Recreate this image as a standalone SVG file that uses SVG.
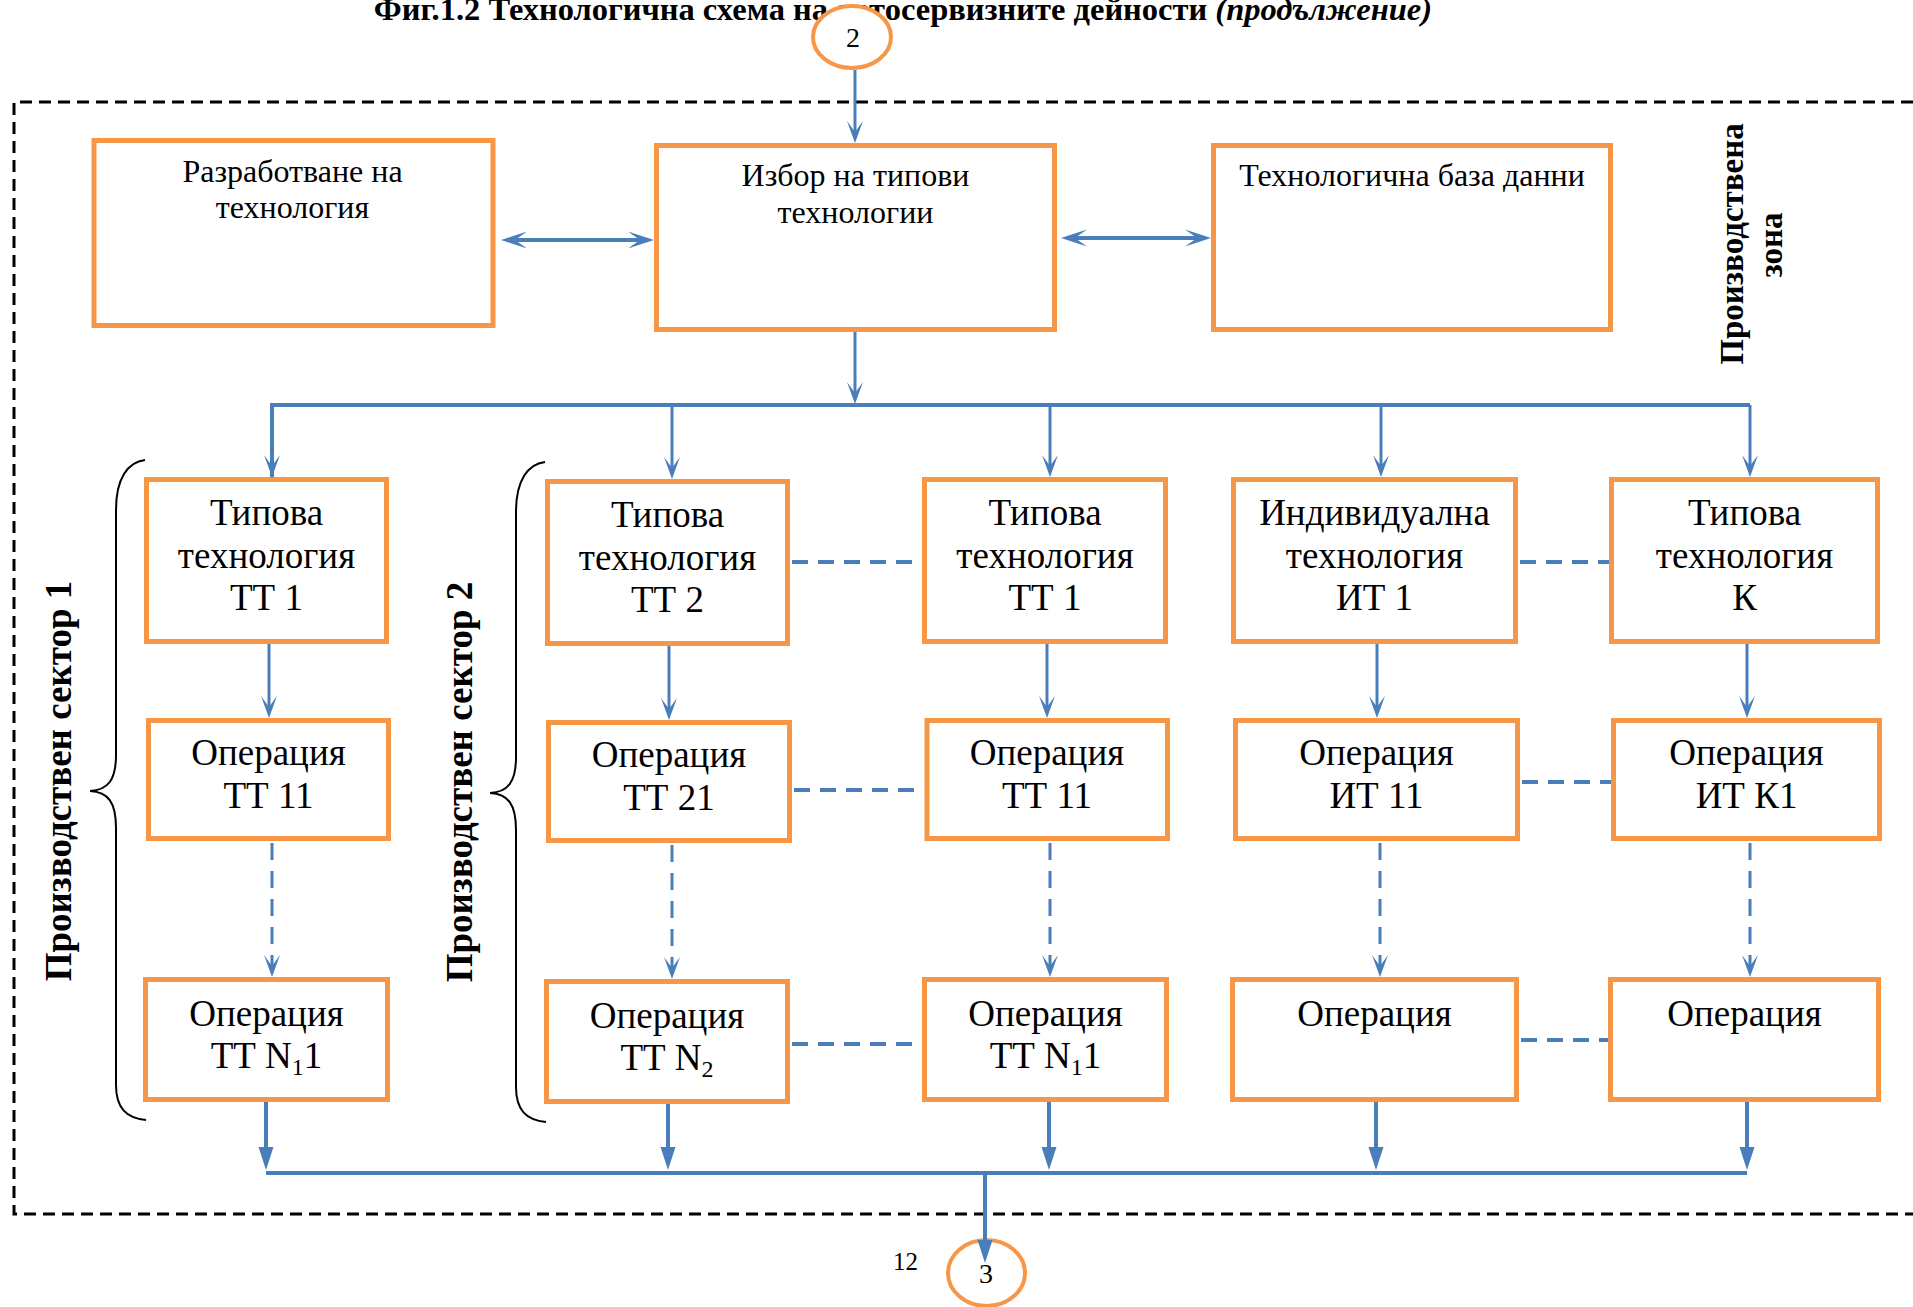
<svg xmlns="http://www.w3.org/2000/svg" width="1913" height="1307" viewBox="0 0 1913 1307">
<style>
text{font-family:"Liberation Serif","Times New Roman",serif;fill:#000}
.box{fill:#fff;stroke:#F79646;stroke-width:5}
.t32{font-size:32px;text-anchor:middle}
.t36{font-size:37px;text-anchor:middle}
.sub{font-size:24px}
.ln{stroke:#4A7EBB;stroke-width:3;fill:none}
.lnb{stroke:#4A7EBB;stroke-width:4;fill:none}
.dv{stroke:#4A7EBB;stroke-width:3;fill:none;stroke-dasharray:17 11}
.dh{stroke:#4A7EBB;stroke-width:4;fill:none;stroke-dasharray:16 10}
.brace{stroke:#000;stroke-width:2;fill:none}
.lbl{font-size:37px;font-weight:bold;text-anchor:middle}
.circ{fill:#fff;stroke:#F79646;stroke-width:4}
</style>
<defs>
<marker id="st" markerUnits="userSpaceOnUse" viewBox="-25 -10 35 20" markerWidth="35" markerHeight="20" refX="0" refY="0" orient="auto">
<path d="M6,0 L-16,-8 L-5,0 L-16,8 Z" fill="#4A7EBB"/>
</marker>
<marker id="tri" markerUnits="userSpaceOnUse" viewBox="-25 -10 35 20" markerWidth="35" markerHeight="20" refX="0" refY="0" orient="auto">
<path d="M6,0 L-17,-7.5 L-17,7.5 Z" fill="#4A7EBB"/>
</marker>
<marker id="dbl" markerUnits="userSpaceOnUse" viewBox="-25 -10 35 20" markerWidth="35" markerHeight="20" refX="0" refY="0" orient="auto-start-reverse">
<path d="M6,0 L-20,-8.5 L-8,0 L-20,8.5 Z" fill="#4A7EBB"/>
</marker>
</defs>

<text id="title" x="903" y="20" style="font-size:32.5px;font-weight:bold;text-anchor:middle">Фиг.1.2 Технологична схема на автосервизните дейности  <tspan font-style="italic">(продължение)</tspan></text>

<g id="zone">
<path d="M1913,102 L14,102 L14,1214 L1913,1214" fill="none" stroke="#000" stroke-width="3" stroke-dasharray="12 7"/>
<text transform="translate(1743,244) rotate(-90)" class="lbl" style="font-size:33px">Производствена</text>
<text transform="translate(1782,245) rotate(-90)" class="lbl" style="font-size:33px">зона</text>
</g>

<g id="sector1">
<path class="brace" d="M145,460 C128,462 116,478 116,510 L116,755 C116,780 108,790 90,791 C108,792 116,802 116,828 L116,1085 C116,1108 126,1118 146,1120"/>
<text transform="translate(71,781) rotate(-90)" class="lbl">Производствен сектор 1</text>
</g>
<g id="sector2">
<path class="brace" d="M545,462 C528,464 516,480 516,512 L516,757 C516,782 508,792 490,793 C508,794 516,804 516,830 L516,1087 C516,1110 526,1120 546,1122"/>
<text transform="translate(472,782) rotate(-90)" class="lbl">Производствен сектор 2</text>
</g>

<g id="connectors">
<line class="ln" x1="855" y1="70" x2="855" y2="137" marker-end="url(#st)"/>
<line class="lnb" x1="507" y1="240" x2="648" y2="240" marker-start="url(#dbl)" marker-end="url(#dbl)"/>
<line class="lnb" x1="1067" y1="238" x2="1205" y2="238" marker-start="url(#dbl)" marker-end="url(#dbl)"/>
<line class="ln" x1="855" y1="332" x2="855" y2="398" marker-end="url(#st)"/>
<path class="lnb" d="M272,477 L272,405 L1750,405"/>
<line class="ln" x1="272" y1="405" x2="272" y2="471" marker-end="url(#st)"/>
<line class="ln" x1="672" y1="405" x2="672" y2="473" marker-end="url(#st)"/>
<line class="ln" x1="1050" y1="405" x2="1050" y2="471" marker-end="url(#st)"/>
<line class="ln" x1="1381" y1="405" x2="1381" y2="471" marker-end="url(#st)"/>
<line class="ln" x1="1750" y1="405" x2="1750" y2="471" marker-end="url(#st)"/>

<line class="ln" x1="269" y1="644" x2="269" y2="712" marker-end="url(#st)"/>
<line class="ln" x1="669" y1="646" x2="669" y2="714" marker-end="url(#st)"/>
<line class="ln" x1="1047" y1="644" x2="1047" y2="712" marker-end="url(#st)"/>
<line class="ln" x1="1377" y1="644" x2="1377" y2="712" marker-end="url(#st)"/>
<line class="ln" x1="1747" y1="644" x2="1747" y2="712" marker-end="url(#st)"/>

<line class="dv" x1="272" y1="843" x2="272" y2="971" marker-end="url(#st)"/>
<line class="dv" x1="672" y1="845" x2="672" y2="973" marker-end="url(#st)"/>
<line class="dv" x1="1050" y1="843" x2="1050" y2="971" marker-end="url(#st)"/>
<line class="dv" x1="1380" y1="843" x2="1380" y2="971" marker-end="url(#st)"/>
<line class="dv" x1="1750" y1="843" x2="1750" y2="971" marker-end="url(#st)"/>

<line class="dh" x1="792" y1="562" x2="922" y2="562"/>
<line class="dh" x1="1520" y1="562" x2="1609" y2="562"/>
<line class="dh" x1="794" y1="790" x2="924" y2="790"/>
<line class="dh" x1="1522" y1="782" x2="1611" y2="782"/>
<line class="dh" x1="792" y1="1044" x2="922" y2="1044"/>
<line class="dh" x1="1521" y1="1040" x2="1608" y2="1040"/>

<line class="lnb" x1="266" y1="1102" x2="266" y2="1164" marker-end="url(#tri)"/>
<line class="lnb" x1="668" y1="1104" x2="668" y2="1164" marker-end="url(#tri)"/>
<line class="lnb" x1="1049" y1="1102" x2="1049" y2="1164" marker-end="url(#tri)"/>
<line class="lnb" x1="1376" y1="1102" x2="1376" y2="1164" marker-end="url(#tri)"/>
<line class="lnb" x1="1747" y1="1102" x2="1747" y2="1164" marker-end="url(#tri)"/>
<line class="lnb" x1="266" y1="1173" x2="1747" y2="1173"/>
</g>

<g id="c2">
<ellipse class="circ" cx="852" cy="37" rx="39" ry="31"/>
<text x="853" y="47" style="font-size:28px;text-anchor:middle">2</text>
</g>

<g id="n-razrab">
<rect class="box" x="94" y="140.5" width="399" height="185"/>
<text class="t32" x="292.5" y="182">Разработване на</text>
<text class="t32" x="292.5" y="218">технология</text>
</g>
<g id="n-izbor">
<rect class="box" x="656.5" y="145.5" width="398" height="184"/>
<text class="t32" x="855.5" y="186">Избор на типови</text>
<text class="t32" x="855.5" y="223">технологии</text>
</g>
<g id="n-baza">
<rect class="box" x="1213.5" y="145.5" width="397" height="184"/>
<text class="t32" x="1412" y="186">Технологична база данни</text>
</g>

<g id="n-s1-tt1">
<rect class="box" x="146.5" y="479.5" width="240" height="162"/>
<text class="t36" x="266.5" y="525">Типова</text>
<text class="t36" x="266.5" y="568">технология</text>
<text class="t36" x="266.5" y="610">ТТ 1</text>
</g>
<g id="n-tt2">
<rect class="box" x="547.5" y="481.5" width="240" height="162"/>
<text class="t36" x="667.5" y="527">Типова</text>
<text class="t36" x="667.5" y="570">технология</text>
<text class="t36" x="667.5" y="612">ТТ 2</text>
</g>
<g id="n-s2-tt1">
<rect class="box" x="924.5" y="479.5" width="241" height="162"/>
<text class="t36" x="1045" y="525">Типова</text>
<text class="t36" x="1045" y="568">технология</text>
<text class="t36" x="1045" y="610">ТТ 1</text>
</g>
<g id="n-it1">
<rect class="box" x="1233.5" y="479.5" width="282" height="162"/>
<text class="t36" x="1374.5" y="525">Индивидуална</text>
<text class="t36" x="1374.5" y="568">технология</text>
<text class="t36" x="1374.5" y="610">ИТ 1</text>
</g>
<g id="n-k">
<rect class="box" x="1611.5" y="479.5" width="266" height="162"/>
<text class="t36" x="1744.5" y="525">Типова</text>
<text class="t36" x="1744.5" y="568">технология</text>
<text class="t36" x="1744.5" y="610">К</text>
</g>

<g id="n-op-tt11a">
<rect class="box" x="148.5" y="720.5" width="240" height="118"/>
<text class="t36" x="268.5" y="765">Операция</text>
<text class="t36" x="268.5" y="808">ТТ 11</text>
</g>
<g id="n-op-tt21">
<rect class="box" x="548.5" y="722.5" width="241" height="118"/>
<text class="t36" x="669" y="767">Операция</text>
<text class="t36" x="669" y="810">ТТ 21</text>
</g>
<g id="n-op-tt11b">
<rect class="box" x="927" y="720.5" width="240.5" height="118"/>
<text class="t36" x="1047" y="765">Операция</text>
<text class="t36" x="1047" y="808">ТТ 11</text>
</g>
<g id="n-op-it11">
<rect class="box" x="1235.5" y="720.5" width="282" height="118"/>
<text class="t36" x="1376.5" y="765">Операция</text>
<text class="t36" x="1376.5" y="808">ИТ 11</text>
</g>
<g id="n-op-itk1">
<rect class="box" x="1613.5" y="720.5" width="266" height="118"/>
<text class="t36" x="1746.5" y="765">Операция</text>
<text class="t36" x="1746.5" y="808">ИТ К1</text>
</g>

<g id="n-op-n1a">
<rect class="box" x="145.5" y="979.5" width="242" height="120"/>
<text class="t36" x="266.5" y="1026">Операция</text>
<text class="t36" x="266.5" y="1068">ТТ N<tspan class="sub" dy="7">1</tspan><tspan dy="-7">1</tspan></text>
</g>
<g id="n-op-n2">
<rect class="box" x="546.5" y="981.5" width="241" height="120"/>
<text class="t36" x="667" y="1028">Операция</text>
<text class="t36" x="667" y="1070">ТТ N<tspan class="sub" dy="7">2</tspan></text>
</g>
<g id="n-op-n1b">
<rect class="box" x="924.5" y="979.5" width="242" height="120"/>
<text class="t36" x="1045.5" y="1026">Операция</text>
<text class="t36" x="1045.5" y="1068">ТТ N<tspan class="sub" dy="7">1</tspan><tspan dy="-7">1</tspan></text>
</g>
<g id="n-op-4">
<rect class="box" x="1232.5" y="979.5" width="284" height="120"/>
<text class="t36" x="1374.5" y="1026">Операция</text>
</g>
<g id="n-op-5">
<rect class="box" x="1610.5" y="979.5" width="268" height="120"/>
<text class="t36" x="1744.5" y="1026">Операция</text>
</g>

<g id="c3">
<ellipse class="circ" cx="986.5" cy="1273" rx="38.5" ry="33"/>
<text x="986" y="1283" style="font-size:28px;text-anchor:middle">3</text>
</g>
<g id="connectors-out">
<line class="lnb" x1="985" y1="1173" x2="985" y2="1257" marker-end="url(#tri)"/>
</g>
<text id="page" x="893" y="1270" style="font-size:25px">12</text>
</svg>
